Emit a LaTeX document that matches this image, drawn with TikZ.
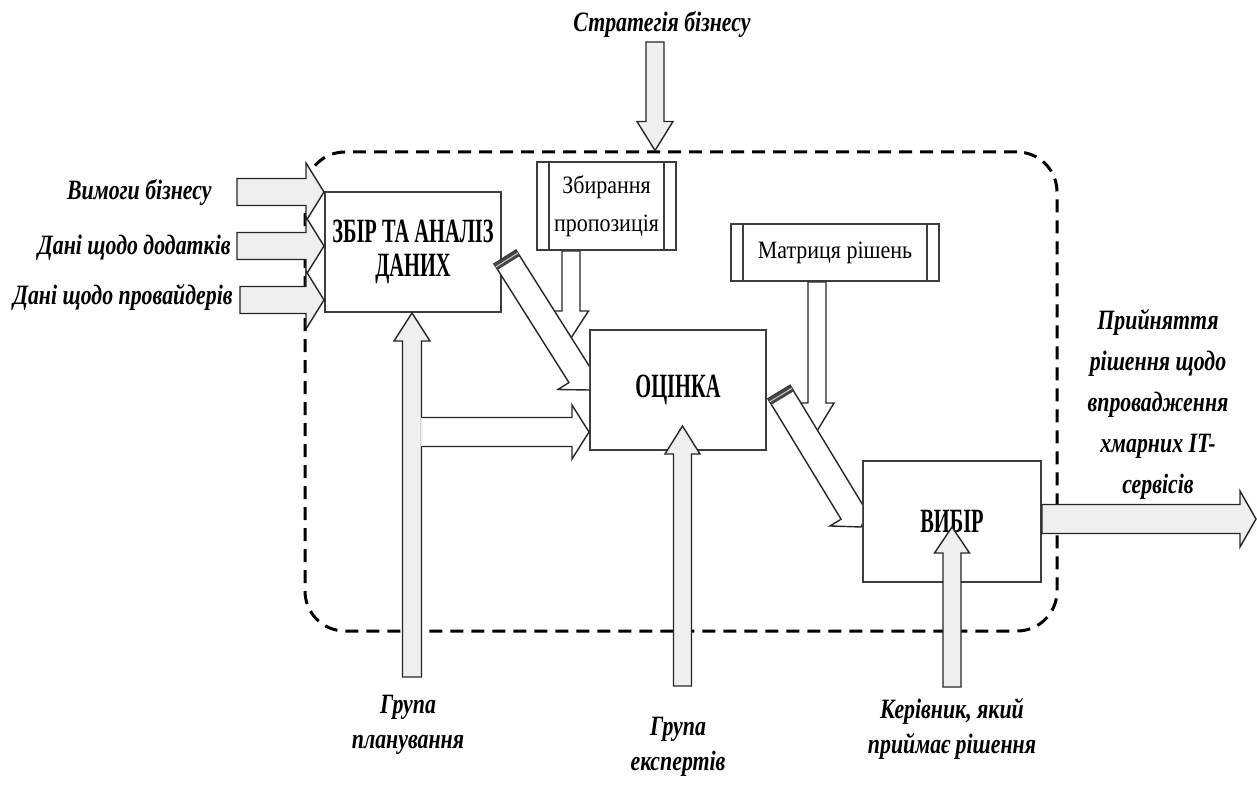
\documentclass[tikz,border=0pt]{standalone}
\usepackage{fontspec}
\setmainfont{Liberation Serif}
\newfontfamily\boxfont[FakeStretch=0.88]{Liberation Serif}
\newfontfamily\headfont[FakeStretch=0.6]{Liberation Serif}
\newfontfamily\labelfont[FakeStretch=0.78]{Liberation Serif}
\usetikzlibrary{calc}
\usetikzlibrary{positioning}

\definecolor{arrowgray}{HTML}{EFEFEF}
\definecolor{linegray}{HTML}{3C3C3C}
\definecolor{bandgray}{HTML}{454545}

\tikzset{
    procbox/.style={draw=linegray, line width=1pt, fill=white, inner sep=0pt, align=center,
        font=\headfont\bfseries\fontsize{17pt}{17pt}\selectfont},
    subproc/.style={draw=linegray, line width=1pt, fill=white, inner sep=0pt, align=center,
        font=\boxfont\fontsize{12.5pt}{19pt}\selectfont,
        path picture={\draw[linegray, line width=1pt]
            ([xshift=6pt]path picture bounding box.north west) -- ([xshift=6pt]path picture bounding box.south west)
            ([xshift=-6pt]path picture bounding box.north east) -- ([xshift=-6pt]path picture bounding box.south east);}},
    flowlabel/.style={align=center, inner sep=0pt,
        font=\labelfont\bfseries\itshape\fontsize{14pt}{17.5pt}\selectfont},
    zone/.style={draw=black, line width=1.5pt, dash pattern=on 6.5pt off 4pt, rounded corners=20pt,
        minimum width=376pt, minimum height=239.5pt, inner sep=0pt},
    arrowline/.style={draw=black!85, line width=0.7pt, line join=miter, fill=arrowgray},
    hollow/.style={fill=white},
}

% [options]{from}{to}{shaft half width}{head half width}{head length}
\newcommand{\blockarrow}[6][]{%
    \path (#2) coordinate (ba-s) (#3) coordinate (ba-t);
    \path ($(ba-t)!#6!(ba-s)$) coordinate (ba-h);
    \draw[arrowline,#1] ($(ba-s)!#4!90:(ba-t)$) -- ($(ba-h)!#4!90:(ba-t)$) -- ($(ba-h)!#5!90:(ba-t)$)
        -- (ba-t) -- ($(ba-h)!#5!-90:(ba-t)$) -- ($(ba-h)!#4!-90:(ba-t)$) -- ($(ba-s)!#4!-90:(ba-t)$) -- cycle;
}
\newcommand{\tailband}[3]{%
    \path (#1) coordinate (ba-s) (#2) coordinate (ba-t);
    \path ($(ba-s)!3.5pt!(ba-t)$) coordinate (ba-m) ($(ba-s)!1.75pt!(ba-t)$) coordinate (ba-c);
    \fill[bandgray] ($(ba-s)!#3!90:(ba-t)$) -- ($(ba-m)!#3!90:(ba-t)$) -- ($(ba-m)!#3!-90:(ba-t)$) -- ($(ba-s)!#3!-90:(ba-t)$) -- cycle;
    \draw[black!20, line width=0.5pt] ($(ba-c)!#3!90:(ba-t)$) -- ($(ba-c)!#3!-90:(ba-t)$);
}

\begin{document}
\begin{tikzpicture}[x=0.5pt, y=-0.5pt]
    \useasboundingbox (0,0) rectangle (1257,785);

    \node[zone] (ctrl) at (681,391.5) {};

    \node[procbox, minimum width=88pt, minimum height=60pt] (zbir) at (413,252) {ЗБІР ТА АНАЛІЗ\\ДАНИХ};
    \node[subproc, minimum width=69.5pt, minimum height=44pt] (zbyr) at (606.5,206) {Збирання\\пропозиція};
    \node[subproc, minimum width=104pt, minimum height=28.5pt] (matr) at (835,252.5) {Матриця рішень};
    \node[procbox, minimum width=88pt, minimum height=60pt] (ocinka) at (678,390) {ОЦІНКА};
    \node[procbox, minimum width=89pt, minimum height=60.5pt] (vybir) at (952,521.5) {ВИБІР};

    \node[flowlabel] (strat) at (662,25) {Стратегія бізнесу};
    \node[flowlabel, anchor=east] (req) at (212,193) {Вимоги бізнесу};
    \node[flowlabel, anchor=east] (apps) at (231,248) {Дані щодо додатків};
    \node[flowlabel, anchor=east] (prov) at (233,297) {Дані щодо провайдерів};
    \node[flowlabel, font=\labelfont\bfseries\itshape\fontsize{14pt}{20.5pt}\selectfont] (decision) at (1158,404)
        {Прийняття\\рішення щодо\\впровадження\\хмарних IT-\\сервісів};
    \node[flowlabel] (plan) at (408,725) {Група\\планування};
    \node[flowlabel] (experts) at (678,747) {Група\\експертів};
    \node[flowlabel] (manager) at (952,729) {Керівник, який\\приймає рішення};

    \coordinate (strat-in) at (655,42);
    \coordinate (req-in) at (237,192);
    \coordinate (apps-in) at (237,246);
    \coordinate (prov-in) at (240,300);
    \coordinate (plan-in) at (412,677);
    \coordinate (plan-mid) at (422,432);
    \coordinate (exp-in) at (682.5,686);
    \coordinate (ker-in) at (952,687);
    \coordinate (out-tip) at (1256,519);

    \blockarrow{strat-in}{strat-in |- ctrl.north}{4.5pt}{9pt}{14.5pt}
    \blockarrow{req-in}{req-in -| zbir.west}{6.75pt}{14.5pt}{9pt}
    \blockarrow{apps-in}{apps-in -| zbir.west}{6.75pt}{14.5pt}{9pt}
    \blockarrow{prov-in}{prov-in -| zbir.west}{6.75pt}{14.5pt}{9pt}
    \blockarrow{plan-in}{plan-in |- zbir.south}{4.75pt}{9pt}{14pt}
    \blockarrow[hollow]{plan-mid}{plan-mid -| ocinka.west}{7.25pt}{13.5pt}{8.5pt}
    \draw[arrowgray, line width=1.2pt] ($(ba-s)!6.8pt!90:(ba-t)$) -- ($(ba-s)!6.8pt!-90:(ba-t)$);
    \blockarrow{exp-in}{$(exp-in |- ocinka.south)+(0,-25)$}{4.5pt}{8.75pt}{14pt}
    \blockarrow{ker-in}{$(ker-in |- vybir.center)+(0,5.5)$}{4.5pt}{8.75pt}{13pt}
    \blockarrow{vybir.east |- out-tip}{out-tip}{7.25pt}{14pt}{8pt}
    \blockarrow[hollow]{$(zbyr.south)+(-35.5,0)$}{$(zbyr.south)+(-35.5,87)$}{4.5pt}{8.75pt}{13.5pt}
    \blockarrow[hollow]{$(matr.south)+(-18,0)$}{$(matr.south)+(-18,149)$}{4.5pt}{8.5pt}{14pt}

    \begin{scope}
        \clip ($(ocinka.west)+(0,-400)$) rectangle (0,800);
        \blockarrow[hollow]{$(zbir.east)+(3,5)$}{ocinka.west}{6.5pt}{13pt}{8.5pt}
        \tailband{$(zbir.east)+(3,5)$}{ocinka.west}{6.5pt}
    \end{scope}
    \begin{scope}
        \clip ($(vybir.west)+(0,-400)$) rectangle (0,800);
        \blockarrow[hollow]{$(ocinka.east)+(12,2)$}{$(vybir.west)+(-1,5.5)$}{6.5pt}{13pt}{8.5pt}
        \tailband{$(ocinka.east)+(12,2)$}{$(vybir.west)+(-1,5.5)$}{6.5pt}
    \end{scope}
\end{tikzpicture}
\end{document}
